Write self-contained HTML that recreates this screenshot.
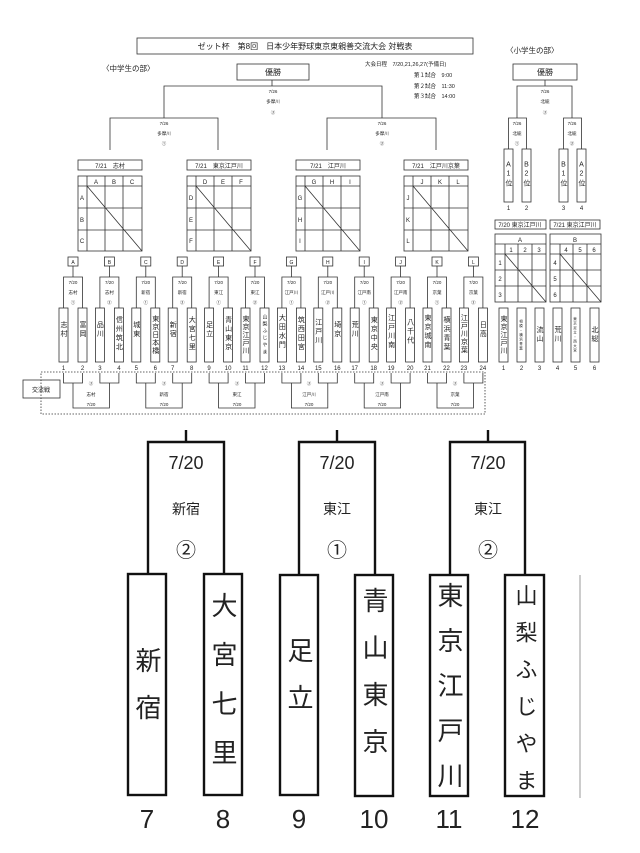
<!DOCTYPE html>
<html><head><meta charset="utf-8"><style>
html,body{margin:0;padding:0;background:#fff}
svg{display:block}
text{font-family:"Liberation Sans","Noto Sans CJK JP",sans-serif;fill:#222}
.v{writing-mode:vertical-rl;text-orientation:upright}
</style></head><body>
<svg width="640" height="853" viewBox="0 0 640 853" xmlns="http://www.w3.org/2000/svg">
<g fill="none" stroke="#333" stroke-width="0.8">
<!-- title -->
<rect x="137" y="38" width="336" height="16"/>
<rect x="237" y="64" width="72" height="16"/>
<path d="M272 80V86M164 118V86H382V118"/>
<path d="M110 150V118H218V150M327 150V118H436V150"/>
<!-- group title boxes and grids -->
<rect x="78" y="160" width="64" height="10"/><rect x="187" y="160" width="64" height="10"/><rect x="296" y="160" width="64" height="10"/><rect x="404" y="160" width="64" height="10"/>
<g id="grid">
<rect x="78" y="176" width="64" height="75"/>
<path d="M78 186H142M78 208H142M78 230H142M87 176V251M105 176V251M123 176V251M87 186L142 251"/>
</g>
<use href="#grid" x="109"/><use href="#grid" x="218"/><use href="#grid" x="326"/>
<!-- pairs -->
<g id="pair">
<path d="M63.5 308V277H82.5V308M73 277V266"/>
<rect x="68" y="257" width="10" height="9"/>
<rect x="59" y="308" width="9" height="54"/><rect x="78" y="308" width="9" height="54"/>
<path d="M63.5 373V383H82.5V373"/>
</g>
<use href="#pair" x="36.4"/><use href="#pair" x="72.8"/><use href="#pair" x="109.2"/><use href="#pair" x="145.6"/><use href="#pair" x="182"/><use href="#pair" x="218.4"/><use href="#pair" x="254.8"/><use href="#pair" x="291.2"/><use href="#pair" x="327.6"/><use href="#pair" x="364"/><use href="#pair" x="400.4"/>
<g id="ex"><path d="M73 383V408H109.4V383"/></g>
<use href="#ex" x="72.8"/><use href="#ex" x="145.6"/><use href="#ex" x="218.4"/><use href="#ex" x="291.2"/><use href="#ex" x="364"/>
<rect x="41" y="372" width="444" height="42" stroke-dasharray="1.5,1.5"/>
<rect x="23" y="380" width="37" height="18"/>
<!-- elementary -->
<rect x="513" y="64" width="64" height="16"/>
<path d="M545 80V86M517 118V86H572V118"/>
<path d="M508.5 149V118H526.5V149M563.5 149V118H581.5V149"/>
<rect x="504" y="149" width="9" height="53"/><rect x="522" y="149" width="9" height="53"/><rect x="559" y="149" width="9" height="53"/><rect x="577" y="149" width="9" height="53"/>
<rect x="495" y="220" width="51" height="9"/><rect x="550" y="220" width="50" height="9"/>
<g id="eg"><rect x="495" y="234" width="51" height="68"/>
<path d="M495 244H546M495 254H546M495 270H546M495 286H546M505 244V302M518 244V302M532 244V302M505 254L546 302"/></g>
<use href="#eg" x="55"/>
<rect x="499" y="308" width="9" height="54"/><rect x="517" y="308" width="9" height="54"/><rect x="535" y="308" width="9" height="54"/><rect x="553" y="308" width="9" height="54"/><rect x="571" y="308" width="9" height="54"/><rect x="590" y="308" width="9" height="54"/>
</g>
<!-- bottom zoom -->
<g fill="none" stroke="#111" stroke-width="2.4">
<path d="M186 430V442M148 574V442H224V574"/>
<path d="M337 430V442M299 574V442H375V574"/>
<path d="M488 430V442M450 574V442H525V574"/>
<rect x="128" y="574" width="38" height="221"/><rect x="204" y="574" width="38" height="221"/>
<rect x="280" y="575" width="38" height="220"/><rect x="355" y="575" width="38" height="221"/>
<rect x="430" y="575" width="38" height="221"/><rect x="505" y="575" width="39" height="221"/>
</g>
<path d="M580 575V798" stroke="#999" stroke-width="1"/>

<!-- texts top -->
<g font-size="8" text-anchor="middle">
<text x="305" y="49">ゼット杯　第8回　日本少年野球東京東親善交流大会 対戦表</text>
<text x="273" y="75">優勝</text>
<text x="545" y="75">優勝</text>
</g>
<text x="102" y="71" font-size="7.5">〈中学生の部〉</text>
<text x="506" y="53" font-size="7.5">〈小学生の部〉</text>
<g font-size="5.5">
<text x="365" y="66">大会日程　7/20,21,26,27(予備日)</text>
<text x="414" y="77">第１試合　9:00</text>
<text x="414" y="88">第２試合　11:30</text>
<text x="414" y="98">第３試合　14:00</text>
</g>
<g font-size="4.5" text-anchor="middle">
<text x="273" y="93">7/26</text><text x="273" y="103">多摩川</text><text x="273" y="114">③</text>
<text x="164" y="125">7/26</text><text x="164" y="135">多摩川</text><text x="164" y="145">①</text>
<text x="382" y="125">7/26</text><text x="382" y="135">多摩川</text><text x="382" y="145">②</text>
<text x="545" y="93">7/26</text><text x="545" y="103">北総</text><text x="545" y="114">③</text>
<text x="517" y="125">7/26</text><text x="517" y="135">北総</text><text x="517" y="145">①</text>
<text x="572" y="125">7/26</text><text x="572" y="135">北総</text><text x="572" y="145">②</text>
</g>
<g font-size="6" text-anchor="middle">
<text x="110" y="168">7/21　志村</text><text x="219" y="168">7/21　東京江戸川</text><text x="328" y="168">7/21　江戸川</text><text x="436" y="168">7/21　江戸川京葉</text>
<text x="520" y="227">7/20 東京江戸川</text><text x="575" y="227">7/21 東京江戸川</text>
<text x="96" y="184">A</text><text x="114" y="184">B</text><text x="132" y="184">C</text>
<text x="205" y="184">D</text><text x="223" y="184">E</text><text x="241" y="184">F</text>
<text x="314" y="184">G</text><text x="332" y="184">H</text><text x="350" y="184">I</text>
<text x="422" y="184">J</text><text x="440" y="184">K</text><text x="458" y="184">L</text>
<text x="82" y="200">A</text><text x="82" y="222">B</text><text x="82" y="243">C</text>
<text x="191" y="200">D</text><text x="191" y="222">E</text><text x="191" y="243">F</text>
<text x="300" y="200">G</text><text x="300" y="222">H</text><text x="300" y="243">I</text>
<text x="408" y="200">J</text><text x="408" y="222">K</text><text x="408" y="243">L</text>
<text x="520" y="242">A</text><text x="575" y="242">B</text>
<text x="511" y="252">1</text><text x="525" y="252">2</text><text x="539" y="252">3</text>
<text x="566" y="252">4</text><text x="580" y="252">5</text><text x="594" y="252">6</text>
<text x="500" y="265">1</text><text x="500" y="281">2</text><text x="500" y="297">3</text>
<text x="555" y="265">4</text><text x="555" y="281">5</text><text x="555" y="297">6</text>
<text x="41" y="392">交流戦</text>
</g>
<g font-size="5" text-anchor="middle">
<text x="73" y="264">A</text><text x="109.4" y="264">B</text><text x="145.8" y="264">C</text><text x="182.2" y="264">D</text><text x="218.6" y="264">E</text><text x="255" y="264">F</text><text x="291.4" y="264">G</text><text x="327.8" y="264">H</text><text x="364.2" y="264">I</text><text x="400.6" y="264">J</text><text x="437" y="264">K</text><text x="473.4" y="264">L</text>
</g>
<g font-size="4.5" text-anchor="middle">
<text x="73" y="284">7/20</text><text x="73" y="294">志村</text><text x="73" y="304">①</text>
<text x="109.4" y="284">7/20</text><text x="109.4" y="294">志村</text><text x="109.4" y="304">②</text>
<text x="145.8" y="284">7/20</text><text x="145.8" y="294">新宿</text><text x="145.8" y="304">①</text>
<text x="182.2" y="284">7/20</text><text x="182.2" y="294">新宿</text><text x="182.2" y="304">②</text>
<text x="218.6" y="284">7/20</text><text x="218.6" y="294">東江</text><text x="218.6" y="304">①</text>
<text x="255" y="284">7/20</text><text x="255" y="294">東江</text><text x="255" y="304">②</text>
<text x="291.4" y="284">7/20</text><text x="291.4" y="294">江戸川</text><text x="291.4" y="304">①</text>
<text x="327.8" y="284">7/20</text><text x="327.8" y="294">江戸川</text><text x="327.8" y="304">②</text>
<text x="364.2" y="284">7/20</text><text x="364.2" y="294">江戸南</text><text x="364.2" y="304">①</text>
<text x="400.6" y="284">7/20</text><text x="400.6" y="294">江戸南</text><text x="400.6" y="304">②</text>
<text x="437" y="284">7/20</text><text x="437" y="294">京葉</text><text x="437" y="304">①</text>
<text x="473.4" y="284">7/20</text><text x="473.4" y="294">京葉</text><text x="473.4" y="304">②</text>
<text x="91" y="385">③</text><text x="91" y="396">志村</text><text x="91" y="406">7/20</text>
<text x="164" y="385">③</text><text x="164" y="396">新宿</text><text x="164" y="406">7/20</text>
<text x="237" y="385">③</text><text x="237" y="396">東江</text><text x="237" y="406">7/20</text>
<text x="309" y="385">③</text><text x="309" y="396">江戸川</text><text x="309" y="406">7/20</text>
<text x="382" y="385">③</text><text x="382" y="396">江戸南</text><text x="382" y="406">7/20</text>
<text x="455" y="385">③</text><text x="455" y="396">京葉</text><text x="455" y="406">7/20</text>
</g>
<!-- small team names -->
<g font-size="7" text-anchor="middle" class="v" letter-spacing="2">
<text x="63.5" y="330">志村</text><text x="82.5" y="330">富岡</text>
<text x="99.9" y="330">品川</text><text x="118.9" y="334">信州筑北</text>
<text x="136.3" y="330">城東</text><text x="155.3" y="335" letter-spacing="1">東京日本橋</text>
<text x="172.7" y="330">新宿</text><text x="191.7" y="334">大宮七里</text>
<text x="209.1" y="330">足立</text><text x="228.1" y="334">青山東京</text>
<text x="245.5" y="335" letter-spacing="1">東京江戸川</text><text x="264.5" y="335" font-size="5" letter-spacing="2">山梨ふじやま</text>
<text x="281.9" y="332">大田水門</text><text x="300.9" y="334">筑西田宮</text>
<text x="318.3" y="332">江戸川</text><text x="337.3" y="330">埼京</text>
<text x="354.7" y="330">荒川</text><text x="373.7" y="334">東京中央</text>
<text x="391.1" y="332">江戸川南</text><text x="410.1" y="332">八千代</text>
<text x="427.5" y="332">東京城南</text><text x="446.5" y="334">横浜青葉</text>
<text x="463.9" y="334" letter-spacing="1">江戸川京葉</text><text x="482.9" y="330">日高</text>
<text x="508.5" y="175">A1位</text><text x="526.5" y="175">B2位</text><text x="563.5" y="175">B1位</text><text x="581.5" y="175">A2位</text>
<text x="503.5" y="335" letter-spacing="1">東京江戸川</text>
<text x="521.5" y="335" font-size="3.5" letter-spacing="1">相模・横浜青葉</text>
<text x="539.5" y="335">流山</text><text x="557.5" y="335">荒川</text>
<text x="575.5" y="335" font-size="3.5" letter-spacing="1">東京足立・西大宮</text>
<text x="594.5" y="335">北総</text>
</g>
<g font-size="6" text-anchor="middle">
<text x="63.5" y="370">1</text><text x="82.5" y="370">2</text><text x="99.9" y="370">3</text><text x="118.9" y="370">4</text><text x="136.3" y="370">5</text><text x="155.3" y="370">6</text><text x="172.7" y="370">7</text><text x="191.7" y="370">8</text><text x="209.1" y="370">9</text><text x="228.1" y="370">10</text><text x="245.5" y="370">11</text><text x="264.5" y="370">12</text><text x="281.9" y="370">13</text><text x="300.9" y="370">14</text><text x="318.3" y="370">15</text><text x="337.3" y="370">16</text><text x="354.7" y="370">17</text><text x="373.7" y="370">18</text><text x="391.1" y="370">19</text><text x="410.1" y="370">20</text><text x="427.5" y="370">21</text><text x="446.5" y="370">22</text><text x="463.9" y="370">23</text><text x="482.9" y="370">24</text>
<text x="508.5" y="210">1</text><text x="526.5" y="210">2</text><text x="563.5" y="210">3</text><text x="581.5" y="210">4</text>
<text x="503.5" y="370">1</text><text x="521.5" y="370">2</text><text x="539.5" y="370">3</text><text x="557.5" y="370">4</text><text x="575.5" y="370">5</text><text x="594.5" y="370">6</text>
</g>
<!-- bottom texts -->
<g text-anchor="middle">
<g font-size="18"><text x="186" y="469">7/20</text><text x="337" y="469">7/20</text><text x="488" y="469">7/20</text></g>
<g font-size="14"><text x="186" y="514">新宿</text><text x="337" y="514">東江</text><text x="488" y="514">東江</text></g>
<g font-size="20"><text x="186" y="557">②</text><text x="337" y="557">①</text><text x="488" y="557">②</text></g>
<g font-size="26"><text x="147" y="828">7</text><text x="223" y="828">8</text><text x="299" y="828">9</text><text x="374" y="828">10</text><text x="449" y="828">11</text><text x="525" y="828">12</text></g>
</g>
<g font-size="26" class="v">
<text x="147" y="647" letter-spacing="21">新宿</text>
<text x="223" y="592" letter-spacing="23">大宮七里</text>
<text x="299" y="637" letter-spacing="21">足立</text>
<text x="374" y="587" letter-spacing="21">青山東京</text>
<text x="449" y="582" letter-spacing="19">東京江戸川</text>
<text x="525" y="584" font-size="22" letter-spacing="15">山梨ふじやま</text>
</g>
</svg>
</body></html>
